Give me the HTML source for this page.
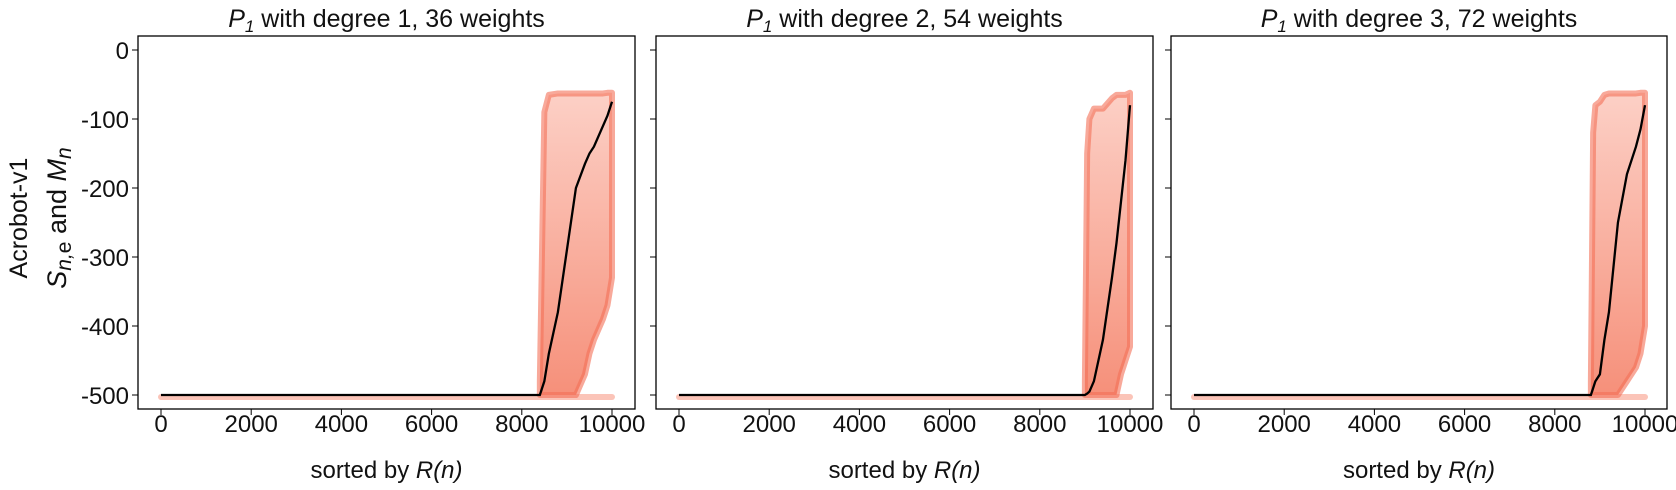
<!DOCTYPE html>
<html><head><meta charset="utf-8"><style>
body{margin:0;background:#fff}
svg text{font-family:"Liberation Sans",Arial,sans-serif;fill:#111}
</style></head><body>
<svg id="chart" width="1676" height="485" xmlns="http://www.w3.org/2000/svg">
<defs><linearGradient id="bandGrad" x1="0" y1="0" x2="0" y2="1"><stop offset="0" stop-color="#fcd0c6"/><stop offset="1" stop-color="#f6907a"/></linearGradient></defs>
</svg>
<script>
const titles = ["with degree 1, 36 weights","with degree 2, 54 weights","with degree 3, 72 weights"];
const xTicks = [0,2000,4000,6000,8000,10000];
const yTicks = [0,-100,-200,-300,-400,-500];
const p1X     = [8400,8500,8600,8800,9000,9200,9400,9500,9600,9800,9900,10000];
const p1Upper = [-480,-90,-65,-63,-63,-63,-63,-63,-63,-63,-62,-62];
const p1Lower = [-500,-500,-500,-500,-500,-500,-470,-440,-420,-390,-370,-330];
const p1Mean  = [-500,-480,-440,-380,-290,-200,-165,-150,-140,-110,-95,-75];
const p2X     = [9000,9050,9100,9200,9400,9600,9700,9800,9900,10000];
const p2Upper = [-480,-150,-100,-85,-85,-70,-65,-65,-65,-62];
const p2Lower = [-500,-500,-500,-500,-500,-500,-500,-470,-450,-430];
const p2Mean  = [-500,-498,-495,-480,-420,-330,-280,-220,-160,-80];
const p3X     = [8800,8850,8900,9000,9100,9200,9400,9600,9800,9900,10000];
const p3Upper = [-480,-120,-80,-75,-65,-63,-63,-63,-63,-62,-62];
const p3Lower = [-500,-500,-500,-500,-500,-500,-500,-480,-460,-440,-400];
const p3Mean  = [-500,-490,-480,-470,-420,-380,-250,-180,-140,-115,-80];
const panelsX=[p1X,p2X,p3X], panelsU=[p1Upper,p2Upper,p3Upper], panelsL=[p1Lower,p2Lower,p3Lower], panelsM=[p1Mean,p2Mean,p3Mean];

const NS="http://www.w3.org/2000/svg";
const svgEl=document.getElementById('chart');
function mk(tag,attrs,parent){const e=document.createElementNS(NS,tag);for(const k in attrs)e.setAttribute(k,attrs[k]);(parent||svgEl).appendChild(e);return e;}
const boxes=[[138,635,161],[656,1153,679],[1171,1667,1194]];
const plotTop=36,plotBot=409;
function yS(v){return 50+(-v)*0.69;}

for(let p=0;p<3;p++){
  const bx=boxes[p];
  const Lx=bx[0],Rx=bx[1],x0=bx[2];
  const xS=v=>x0+v*0.0451;
  const g=mk('g',{});
  
  
  const base=mk('line',{x1:xS(0),x2:xS(10000),y1:yS(-500)+2,y2:yS(-500)+2,stroke:'#fbc4b8','stroke-width':6,'stroke-linecap':'round'},g);
  
  
  const X=panelsX[p],U=panelsU[p],Lo=panelsL[p],M=panelsM[p];
  let pts=X.map((v,i)=>xS(v)+','+yS(U[i]));
  for(let i=X.length-1;i>=0;i--)pts.push(xS(X[i])+','+yS(Lo[i]));
  const band=mk('polygon',{points:pts.join(' '),fill:'url(#bandGrad)',stroke:'#f36f57','stroke-width':6,'stroke-linejoin':'round','stroke-opacity':0.6},g);
  
  
  let d='M'+xS(0)+','+yS(-500)+' L'+X.map((v,i)=>xS(v)+','+yS(M[i])).join(' L');
  const ml=mk('path',{d:d,fill:'none',stroke:'#000','stroke-width':2.3},g);
  
  
  const fr=mk('rect',{x:Lx,y:plotTop,width:Rx-Lx,height:plotBot-plotTop,fill:'none',stroke:'#000','stroke-width':1.3},g);
  
  
  xTicks.forEach(t=>{
    mk('line',{x1:xS(t),x2:xS(t),y1:plotBot,y2:plotBot+6,stroke:'#000','stroke-width':1},g);
    const tx=mk('text',{x:xS(t),y:432,'text-anchor':'middle','font-size':24},g);
    tx.textContent=t;
    
    
  });
  yTicks.forEach(t=>{
    mk('line',{x1:Lx,x2:Lx-6,y1:yS(t),y2:yS(t),stroke:'#000','stroke-width':1},g);
    if(p===0){
      const ty=mk('text',{x:Lx-9,y:yS(t)+9,'text-anchor':'end','font-size':24},g);
      ty.textContent=t;
      
      
    }
  });
  const xl=mk('text',{x:(Lx+Rx)/2,y:478,'text-anchor':'middle','font-size':24},g);
  xl.innerHTML='sorted by <tspan font-style="italic">R(n)</tspan>';
  
  
  const tt=mk('text',{x:(Lx+Rx)/2,y:27,'text-anchor':'middle','font-size':25},g);
  tt.innerHTML='<tspan font-style="italic">P</tspan><tspan font-style="italic" font-size="17" dy="5">1</tspan><tspan dy="-5"> '+titles[p]+'</tspan>';
  
  
}
const yl=mk('text',{transform:'translate(27,218) rotate(-90)','text-anchor':'middle','font-size':25});
yl.textContent='Acrobot-v1';


const yl2=mk('text',{transform:'translate(66,218) rotate(-90)','text-anchor':'middle','font-size':27});
yl2.innerHTML='<tspan font-style="italic">S</tspan><tspan font-style="italic" font-size="21" dy="5">n,</tspan><tspan font-size="21">e</tspan><tspan dy="-5"> and </tspan><tspan font-style="italic">M</tspan><tspan font-style="italic" font-size="21" dy="5">n</tspan>';


</script>
</body></html>
